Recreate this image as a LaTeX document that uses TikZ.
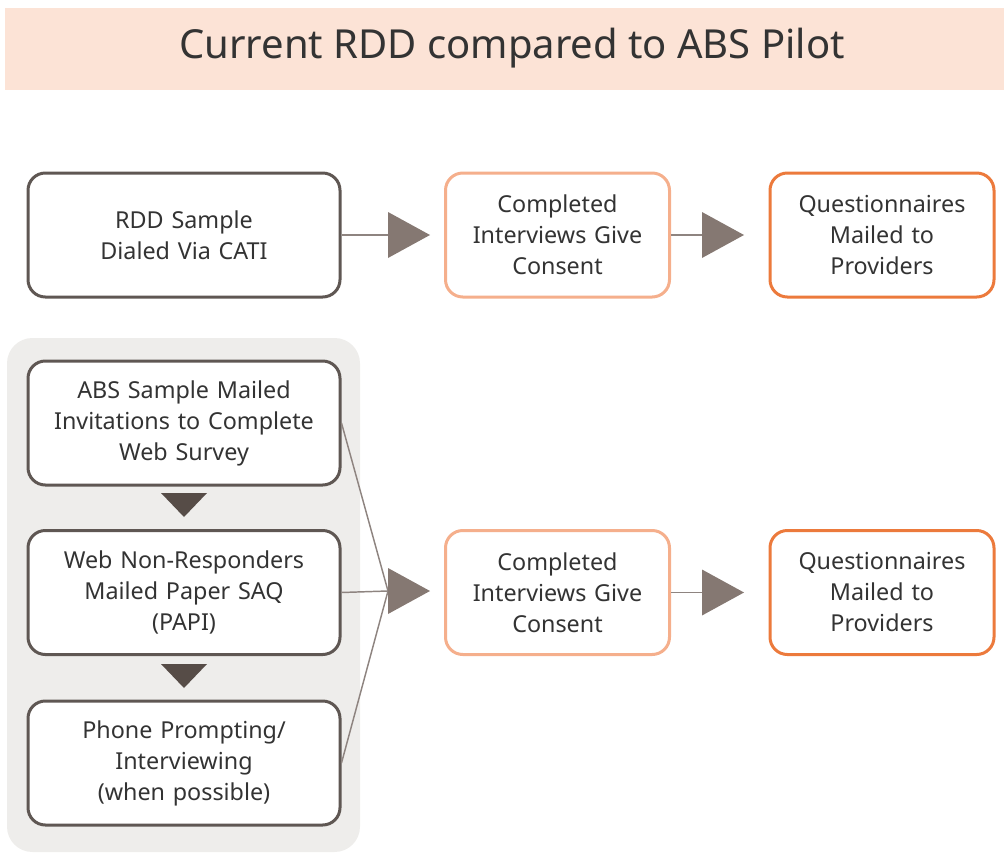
\documentclass[tikz,border=0pt]{standalone}
\usepackage{fontspec}
\setmainfont{Noto Sans}
\usetikzlibrary{positioning}
\definecolor{titlebg}{HTML}{FCE3D6}
\definecolor{panelbg}{HTML}{EEEDEB}
\definecolor{darkedge}{HTML}{5F5753}
\definecolor{lightorange}{HTML}{F5AF8C}
\definecolor{deeporange}{HTML}{EC7A3C}
\definecolor{tipfill}{HTML}{857872}
\definecolor{downfill}{HTML}{564C47}
\definecolor{linkgray}{HTML}{8E8480}
\definecolor{txt}{HTML}{333333}
\tikzset{
  stage/.style={draw=darkedge, line width=2.25pt, rounded corners=13pt, fill=white,
    align=center, text=txt, minimum height=93pt, inner sep=2pt,
    font=\fontsize{17.5}{23.25}\selectfont},
  wide/.style={stage, minimum width=234pt, text width=228pt},
  narrow/.style={stage, minimum width=168pt, text width=160pt},
  link/.style={draw=linkgray, line width=1.1pt},
}
\begin{document}
\begin{tikzpicture}[x=0.75pt, y=-0.75pt]
\useasboundingbox (0,0) rectangle (1004,853);

% title band and panel
\fill[titlebg] (5,8) rectangle (1004,90);
\node[text=txt, font=\fontsize{30}{34}\selectfont] (title) at (512,48) {Current RDD compared to ABS Pilot};
\fill[panelbg, rounded corners=19pt] (7,338) rectangle (360,852);

% current RDD
\node[wide] (rdd) at (184,235) {RDD Sample\\Dialed Via CATI};
\node[narrow, draw=lightorange] (cons1) at (557.5,235) {Completed\\Interviews Give\\Consent};
\node[narrow, draw=deeporange] (quest1) at (882,235) {Questionnaires\\Mailed to\\Providers};

% ABS pilot
\node[wide] (abs) at (184,423) {ABS Sample Mailed\\Invitations to Complete\\Web Survey};
\node[wide] (web) at (184,592.5) {Web Non-Responders\\Mailed Paper SAQ\\(PAPI)};
\node[wide] (phone) at (184,763) {Phone Prompting/\\Interviewing\\(when possible)};
\node[narrow, draw=lightorange] (cons2) at (557.5,592.5) {Completed\\Interviews Give\\Consent};
\node[narrow, draw=deeporange] (quest2) at (882,592.5) {Questionnaires\\Mailed to\\Providers};

% arrow heads
\coordinate (t1) at (388,235);
\coordinate (t2) at (702,235);
\coordinate (t3) at (388,591);
\coordinate (t4) at (702,592.5);
\coordinate (d1) at (184,493);
\coordinate (d2) at (184,664);

\draw[link] (rdd.east) -- (t1);
\draw[link] (cons1.east) -- (t2);
\draw[link] (abs.east) -- (t3);
\draw[link] (web.east) -- (t3);
\draw[link] (phone.east) -- (t3);
\draw[link] (cons2.east) -- (t4);

\foreach \t in {t1,t2,t3,t4}
  \fill[tipfill] (\t) ++(0,-23) -- ++(42,23) -- ++(-42,23) -- cycle;
\foreach \d in {d1,d2}
  \fill[downfill] (\d) ++(-23,0) -- ++(46,0) -- ++(-23,24) -- cycle;
\end{tikzpicture}
\end{document}
